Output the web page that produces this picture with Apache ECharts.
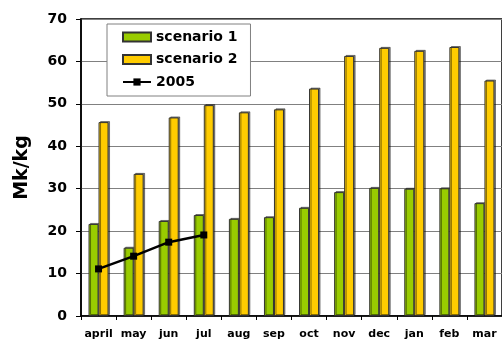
<!DOCTYPE html>
<html>
<head>
<meta charset="utf-8">
<script src="https://cdn.jsdelivr.net/npm/echarts@6/dist/echarts.min.js"></script>
<style>
  html, body { margin: 0; padding: 0; background: #fff; }
  #chart { width: 502px; height: 341px; }
</style>
</head>
<body>
<div id="chart"></div>
<script>
// Monthly values, Mk/kg
const months = ['april', 'may', 'jun', 'jul', 'aug', 'sep', 'oct', 'nov', 'dec', 'jan', 'feb', 'mar'];
const scenario1 = [21.7, 16.1, 22.4, 23.8, 22.9, 23.3, 25.5, 29.2, 30.2, 30.0, 30.1, 26.6];
const scenario2 = [45.7, 33.5, 46.8, 49.7, 48.0, 48.7, 53.6, 61.3, 63.2, 62.5, 63.4, 55.5];
const year2005 = [11.1, 14.1, 17.4, 19.1, null, null, null, null, null, null, null, null];
const yTicks = { min: 0, max: 70, interval: 10 };

const font = '"DejaVu Sans", sans-serif';
const chart = echarts.init(document.getElementById('chart'));

const barStyle = (color) => ({
  color: color,
  borderColor: '#333',
  borderWidth: 1,
  shadowColor: 'rgba(0,0,0,0.45)',
  shadowOffsetX: 1.5,
  shadowOffsetY: -1,
  shadowBlur: 0
});

chart.setOption({
  animation: false,
  backgroundColor: '#fff',
  grid: {
    left: 81, top: 19, width: 424, height: 297,
    show: true, borderColor: '#000', borderWidth: 1.5, backgroundColor: 'transparent'
  },
  legend: {
    orient: 'vertical',
    left: 107, top: 24,
    padding: [6, 13, 7, 15],
    itemWidth: 28, itemHeight: 9, itemGap: 8.5,
    backgroundColor: '#fff',
    borderColor: '#808080', borderWidth: 1,
    textStyle: { fontFamily: font, fontWeight: 'bold', fontSize: 14, color: '#000' },
    data: [
      { name: 'scenario 1', icon: 'rect' },
      { name: 'scenario 2', icon: 'rect' },
      { name: '2005' }
    ]
  },
  xAxis: {
    type: 'category',
    data: months,
    axisLine: { lineStyle: { color: '#000', width: 1.5 } },
    axisTick: { show: true, length: 4, lineStyle: { color: '#000' } },
    axisLabel: { fontFamily: font, fontWeight: 'bold', fontSize: 11, color: '#000', margin: 13, interval: 0 }
  },
  yAxis: {
    type: 'value',
    min: yTicks.min, max: yTicks.max, interval: yTicks.interval,
    name: 'Mk/kg',
    nameLocation: 'middle',
    nameGap: 49,
    nameRotate: 90,
    nameTextStyle: { fontFamily: font, fontWeight: 'bold', fontSize: 19, color: '#000' },
    axisLine: { show: true, lineStyle: { color: '#000', width: 1.5 } },
    axisTick: { show: true, length: 5, inside: false, lineStyle: { color: '#000' } },
    axisLabel: { fontFamily: font, fontWeight: 'bold', fontSize: 14, color: '#000', margin: 14 },
    splitLine: { show: true, lineStyle: { color: '#808080', width: 1 } }
  },
  series: [
    {
      name: 'scenario 1', type: 'bar', data: scenario1,
      barWidth: 10, barGap: '0%',
      itemStyle: barStyle('#99CC00')
    },
    {
      name: 'scenario 2', type: 'bar', data: scenario2,
      barWidth: 10, barGap: '0%',
      itemStyle: barStyle('#FFCC00')
    },
    {
      name: '2005', type: 'line', data: year2005,
      symbol: 'rect', symbolSize: 7,
      lineStyle: { color: '#000', width: 2.5 },
      itemStyle: { color: '#000' },
      z: 5
    }
  ]
});
</script>
</body>
</html>
